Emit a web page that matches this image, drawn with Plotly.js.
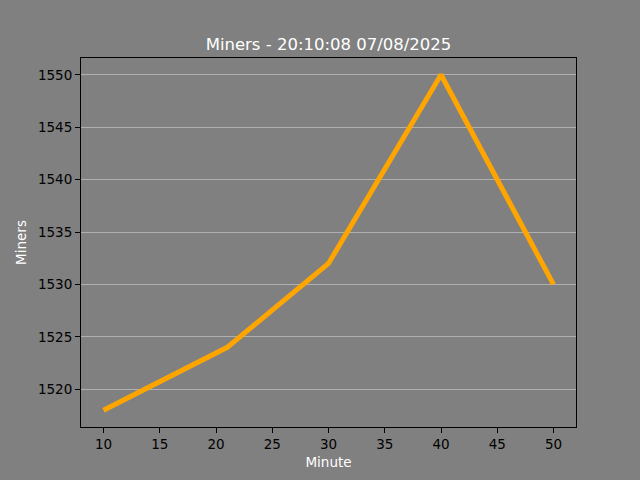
<!DOCTYPE html>
<html>
<head>
<meta charset="utf-8">
<script src="https://cdn.plot.ly/plotly-3.0.1.min.js"></script>
<style>html,body{margin:0;padding:0;background:#808080;}#chart{width:640px;height:480px;}</style>
</head>
<body>
<div id="chart"></div>
<script>
const minutes = [10, 21, 30, 40, 50];
const miners = [1518, 1524, 1532, 1550, 1530];
const titleText = "Miners - 20:10:08 07/08/2025";
const xTicks = [10, 15, 20, 25, 30, 35, 40, 45, 50];
const yTicks = [1520, 1525, 1530, 1535, 1540, 1545, 1550];

const font = "DejaVu Sans, sans-serif";
const trace = {
  x: minutes, y: miners, type: "scatter", mode: "lines",
  line: {color: "#FFA500", width: 5}, hoverinfo: "none"
};
const axisCommon = {
  showline: true, mirror: true, linecolor: "black", linewidth: 1,
  ticks: "outside", ticklen: 5, tickwidth: 1, tickcolor: "black",
  tickfont: {family: font, size: 13.5, color: "black"},
  zeroline: false
};
const layout = {
  width: 640, height: 480,
  paper_bgcolor: "#808080", plot_bgcolor: "#808080",
  margin: {l: 81, r: 64, t: 58, b: 53},
  showlegend: false,
  title: {text: titleText, font: {family: font, size: 16.5, color: "white"},
          xref: "paper", x: 0.5, xanchor: "center", yref: "paper", y: 1, yanchor: "bottom", pad: {b: 8}},
  xaxis: Object.assign({}, axisCommon, {
    range: [8, 52], tickmode: "array", tickvals: xTicks, ticktext: xTicks.map(String),
    showgrid: false,
    title: {text: "Minute", font: {family: font, size: 13.5, color: "white"}, standoff: 6}
  }),
  yaxis: Object.assign({}, axisCommon, {
    range: [1516.4, 1551.6], tickmode: "array", tickvals: yTicks, ticktext: yTicks.map(String),
    showgrid: true, gridcolor: "#b0b0b0", gridwidth: 1,
    title: {text: "Miners", font: {family: font, size: 13.5, color: "white"}, standoff: 8}
  })
};
Plotly.newPlot("chart", [trace], layout, {displayModeBar: false, staticPlot: true});
</script>
</body>
</html>
